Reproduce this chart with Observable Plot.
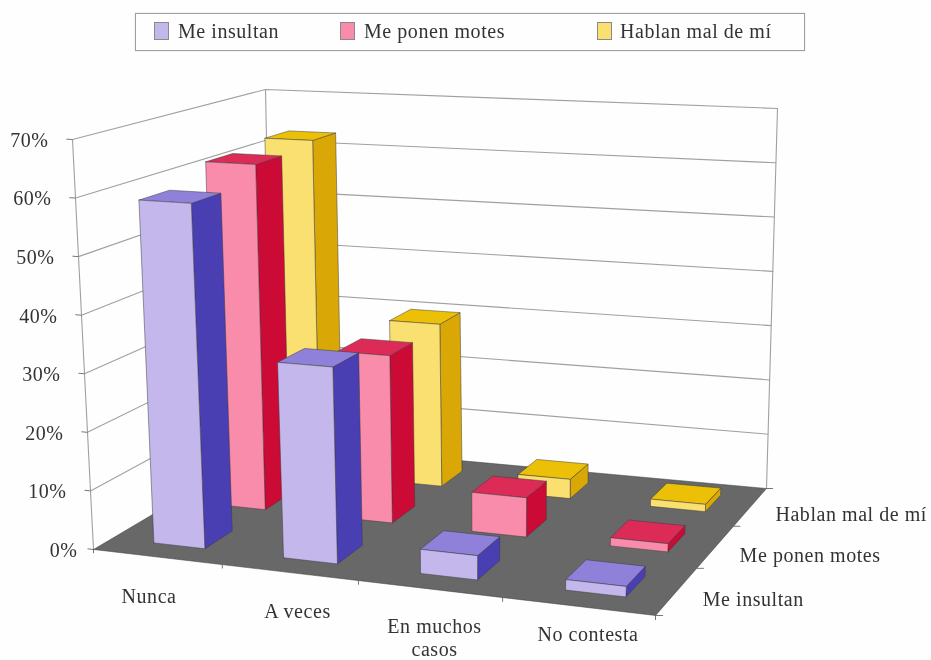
<!DOCTYPE html>
<html><head><meta charset="utf-8">
<script src="https://cdn.jsdelivr.net/npm/d3@7"></script>
<script src="https://cdn.jsdelivr.net/npm/@observablehq/plot@0.6"></script>
<style>
html,body{margin:0;padding:0;background:#fefefe;width:931px;height:660px;overflow:hidden}
#wrap{filter:blur(0.55px);position:relative;width:931px;height:660px;font-family:"Liberation Serif",serif;color:#333}
#legend{position:absolute;left:135px;top:13px;width:668px;height:36px;border:1px solid #9aa0a0;box-shadow:0 0 1px #bbb;font-size:20px;letter-spacing:.55px}
#legend span{position:absolute;top:6px;white-space:nowrap}
#legend i{position:absolute;top:8px;width:15px;height:18px;border:1px solid #8a8a8a;box-sizing:border-box}
#chart{position:absolute;left:0;top:56px}
</style></head><body>
<div id="wrap"><div id="legend"></div><div id="chart"></div></div>
<script>
const categories = ["Nunca", "A veces", "En muchos\ncasos", "No contesta"];
const seriesNames = ["Me insultan", "Me ponen motes", "Hablan mal de mí"];
const meInsultan = [59, 33, 4, 1.7];
const mePonenMotes = [62, 29.5, 6.8, 1.4];
const hablanMal = [63, 30, 3.5, 1.3];
const values = [meInsultan, mePonenMotes, hablanMal];
const percentTicks = [0, 10, 20, 30, 40, 50, 60, 70];

const faceColors = [
  {front:"#c3b7ec", side:"#4a3fb2", top:"#8f80da"},
  {front:"#fa8cab", side:"#cb0a35", top:"#dd2b58"},
  {front:"#fae070", side:"#d9a806", top:"#ecc006"}
];
const floorColor = "#686868";
const legendX = [{s:18,t:42},{s:204,t:228},{s:461,t:484}];
const catNudge = [[-8,39],[8,38],[5,38],[10,27]];
const serNudge = [[26,7],[24,8],[25,7]];

// camera: page position of the eight corners of the chart box
const floorQuad = [[93,549],[655,615],[766,488],[272,443]];
const topQuad   = [[72,139],[678,172],[777,108],[265,89]];
function homography(q){
  const [[x0,y0],[x1,y1],[x2,y2],[x3,y3]] = q;
  const dx1=x1-x2,dx2=x3-x2,sx=x0-x1+x2-x3,dy1=y1-y2,dy2=y3-y2,sy=y0-y1+y2-y3;
  const den=dx1*dy2-dx2*dy1, g=(sx*dy2-dx2*sy)/den, h=(dx1*sy-sx*dy1)/den;
  const a=x1-x0+g*x1,b=x3-x0+h*x3,d=y1-y0+g*y1,e=y3-y0+h*y3;
  return (u,v)=>{const w=g*u+h*v+1;return [(a*u+b*v+x0)/w,(d*u+e*v+y0)/w];};
}
const hF=homography(floorQuad),hT=homography(topQuad);
function P(u,v,w){const f=hF(u,v),t=hT(u,v),k=w/70;return {x:f[0]+(t[0]-f[0])*k,y:f[1]+(t[1]-f[1])*k};}

const polys=[];let pid=0;
function poly(pts,fill){const key=pid++;[...pts,pts[0]].forEach(p=>polys.push({...p,key,fill}));}

poly([P(0,0,0),P(1,0,0),P(1,1,0),P(0,1,0)],floorColor);

const bu=[.33,.73], bv=[.28,.72];
for(let j=2;j>=0;j--){
  for(let i=0;i<4;i++){
    const u0=(i+bu[0])/4,u1=(i+bu[1])/4,v0=(j+bv[0])/3,v1=(j+bv[1])/3,w=values[j][i],c=faceColors[j];
    poly([P(u1,v0,0),P(u1,v1,0),P(u1,v1,w),P(u1,v0,w)],c.side);
    poly([P(u0,v0,w),P(u1,v0,w),P(u1,v1,w),P(u0,v1,w)],c.top);
    poly([P(u0,v0,0),P(u1,v0,0),P(u1,v0,w),P(u0,v0,w)],c.front);
  }
}

const gridRows=[];let gid=0;
percentTicks.forEach(t=>{
  if(t>0){
    [P(0,0,t),P(0,1,t),P(1,1,t)].forEach(p=>gridRows.push({...p,g:gid}));gid++;
  }
});
[[P(0,0,0),P(0,0,70)],[P(0,1,0),P(0,1,70)],[P(1,1,0),P(1,1,70)]].forEach(seg=>{seg.forEach(p=>gridRows.push({...p,g:gid}));gid++;});

const links=[];
percentTicks.forEach(t=>{const a=P(0,0,t),b=P(-.012,0,t);links.push({x1:a.x,y1:a.y,x2:b.x,y2:b.y});});
for(let i=0;i<=4;i++){const a=P(i/4,0,0),b=P(i/4,-.03,0);links.push({x1:a.x,y1:a.y,x2:a.x,y2:b.y});}
for(let j=0;j<=3;j++){const a=P(1,j/3,0),b=P(1.012,j/3,0);links.push({x1:a.x,y1:a.y,x2:b.x,y2:a.y});}

const yLabels=percentTicks.map(t=>{const p=P(0,0,t);return {x:p.x+(t===0?8:0),y:p.y,label:t+"%"};});
const xLabels=categories.map((label,i)=>{const p=P((i+.5)/4,0,0);return {x:p.x+catNudge[i][0],y:p.y+catNudge[i][1]+(label.includes("\n")?10:0),label};});
const sLabels=seriesNames.map((label,j)=>{const p=P(1,(j+.5)/3,0);return {x:p.x+serNudge[j][0],y:p.y+serNudge[j][1],label};});

const textOpts={fontSize:20,fill:"#333",lineHeight:1.15};
const plot=Plot.plot({
  width:931,height:604,margin:0,
  x:{domain:[0,931],range:[0,931],axis:null},
  y:{domain:[56,660],range:[0,604],axis:null},
  color:{type:"identity"},
  style:{fontFamily:"'Liberation Serif',serif",background:"transparent",overflow:"visible",letterSpacing:".55px"},
  marks:[
    Plot.line(gridRows,{x:"x",y:"y",z:"g",stroke:"#a0a0a0",strokeWidth:1.1,curve:"linear"}),
    Plot.link(links,{x1:"x1",y1:"y1",x2:"x2",y2:"y2",stroke:"#777",strokeWidth:1}),
    Plot.line(polys,{x:"x",y:"y",z:"key",fill:"fill",stroke:"#3a3a3a",strokeWidth:.5,curve:"linear"}),
    Plot.text(yLabels,{x:"x",y:"y",text:"label",dx:-24,textAnchor:"end",...textOpts}),
    Plot.text(xLabels,{x:"x",y:"y",text:"label",textAnchor:"middle",...textOpts}),
    Plot.text(sLabels,{x:"x",y:"y",text:"label",textAnchor:"start",...textOpts})
  ]
});
document.getElementById("chart").appendChild(plot);

const legend=document.getElementById("legend");
seriesNames.forEach((name,j)=>{
  const sw=document.createElement("i");sw.style.left=legendX[j].s+"px";sw.style.background=faceColors[j].front;legend.appendChild(sw);
  const t=document.createElement("span");t.style.left=legendX[j].t+"px";t.textContent=name;legend.appendChild(t);
});
</script></body></html>
